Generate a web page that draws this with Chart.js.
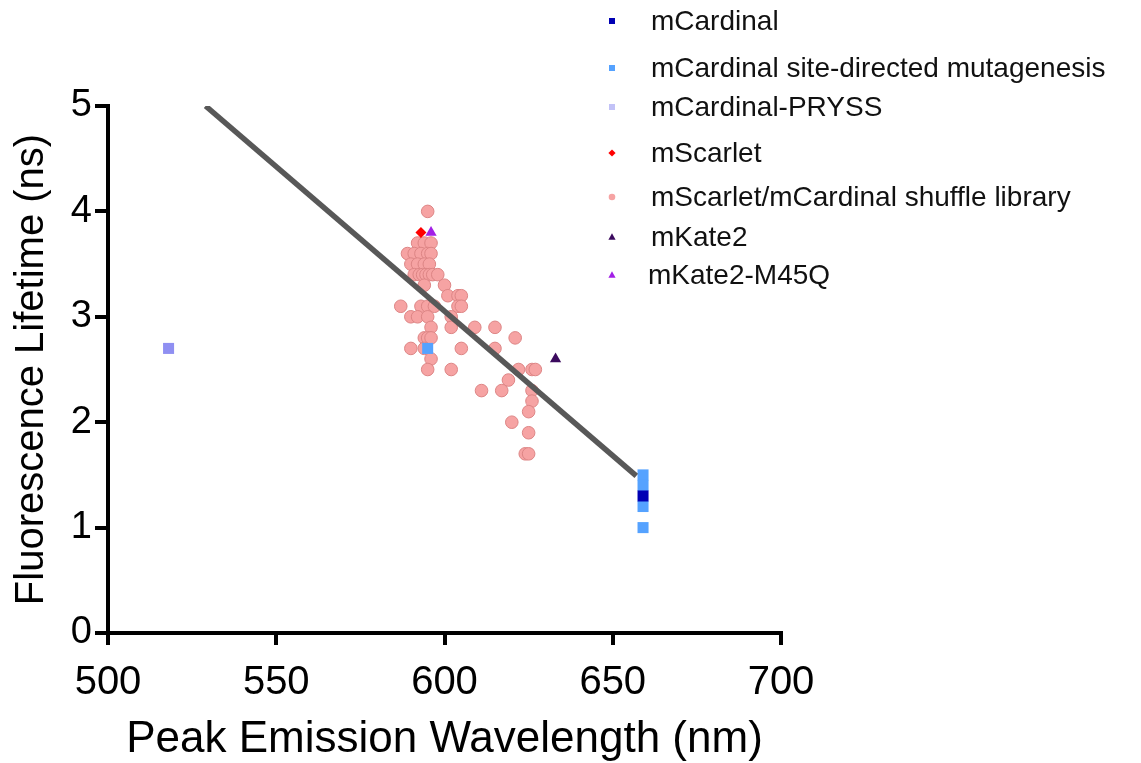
<!DOCTYPE html>
<html>
<head>
<meta charset="utf-8">
<script src="https://cdn.jsdelivr.net/npm/chart.js@4.4.1/dist/chart.umd.min.js"></script>
<style>
  html, body { margin: 0; padding: 0; background: #fff; }
  #wrap { width: 1141px; height: 763px; position: relative; }
</style>
</head>
<body>
<div id="wrap"><canvas id="c" width="1141" height="763"></canvas></div>
<script>
// ---------- data ----------
const xTicks = [500, 550, 600, 650, 700];
const yTicks = [0, 1, 2, 3, 4, 5];

const mCardinalX = [659];
const mCardinalY = [1.3];

const sdmX = [595, 659, 659, 659, 659];
const sdmY = [2.7, 1.5, 1.4, 1.2, 1.0];

const prySSX = [518];
const prySSY = [2.7];

const mScarletX = [593];
const mScarletY = [3.8];

const shuffleX = [595,
  592, 594, 596,
  589, 591, 593, 595, 596,
  590, 592, 594, 595.5,
  591, 592.5, 593.5, 594.5, 595.5, 596.5, 598,
  594, 600,
  601, 604, 605,
  587, 593, 595, 597, 604, 605,
  590, 592, 595, 602,
  596, 602, 609, 615,
  594, 595, 596, 621,
  590, 594, 605, 615,
  596,
  595, 602, 622, 626, 627,
  619,
  611, 617, 626,
  626, 625, 620, 625,
  624, 625];
const shuffleY = [4.0,
  3.7, 3.7, 3.7,
  3.6, 3.6, 3.6, 3.6, 3.6,
  3.5, 3.5, 3.5, 3.5,
  3.4, 3.4, 3.4, 3.4, 3.4, 3.4, 3.4,
  3.3, 3.3,
  3.2, 3.2, 3.2,
  3.1, 3.1, 3.1, 3.1, 3.1, 3.1,
  3.0, 3.0, 3.0, 3.0,
  2.9, 2.9, 2.9, 2.9,
  2.8, 2.8, 2.8, 2.8,
  2.7, 2.7, 2.7, 2.7,
  2.6,
  2.5, 2.5, 2.5, 2.5, 2.5,
  2.4,
  2.3, 2.3, 2.3,
  2.2, 2.1, 2.0, 1.9,
  1.7, 1.7];

const mKate2X = [633];
const mKate2Y = [2.6];

const m45qX = [596];
const m45qY = [3.8];

const fitX = [529, 657];
const fitY = [5.0, 1.49];

const seriesNames = [
  'mCardinal',
  'mCardinal site-directed mutagenesis',
  'mCardinal-PRYSS',
  'mScarlet',
  'mScarlet/mCardinal shuffle library',
  'mKate2',
  'mKate2-M45Q'
];

const xTitle = 'Peak Emission Wavelength (nm)';
const yTitle = 'Fluorescence Lifetime (ns)';

// ---------- build ----------
const pts = (xs, ys) => xs.map((x, i) => ({ x: x, y: ys[i] }));
const FONT = "'Liberation Sans', Arial, Helvetica, sans-serif";

const datasets = [
  { label: seriesNames[0], data: pts(mCardinalX, mCardinalY), pointStyle: 'rect', pointRadius: 7.8,
    backgroundColor: '#0000b4', borderColor: '#0000b4', borderWidth: 0, order: 1,
    legendStyle: 'rect', legendColor: '#0000b4' },
  { label: seriesNames[1], data: pts(sdmX, sdmY), pointStyle: 'rect', pointRadius: 7.8,
    backgroundColor: '#55a2ff', borderColor: '#55a2ff', borderWidth: 0, order: 2,
    legendStyle: 'rect', legendColor: '#55a2ff' },
  { label: seriesNames[2], data: pts(prySSX, prySSY), pointStyle: 'rect', pointRadius: 7.8,
    backgroundColor: '#8f8ff2', borderColor: '#8f8ff2', borderWidth: 0, order: 1,
    legendStyle: 'rect', legendColor: '#c2c2f7' },
  { label: seriesNames[3], data: pts(mScarletX, mScarletY), pointStyle: 'rectRot', pointRadius: 5.5,
    backgroundColor: '#ff0000', borderColor: '#ff0000', borderWidth: 0, order: 1,
    legendStyle: 'diamond', legendColor: '#ff0000' },
  { label: seriesNames[4], data: pts(shuffleX, shuffleY), pointStyle: 'circle', pointRadius: 6.3,
    backgroundColor: '#f6a3a3', borderColor: '#dd8585', borderWidth: 1, order: 5,
    legendStyle: 'circle', legendColor: '#f6a3a3' },
  { label: seriesNames[5], data: pts(mKate2X, mKate2Y), pointStyle: 'triangle', pointRadius: 6.5,
    backgroundColor: '#3b0a5e', borderColor: '#3b0a5e', borderWidth: 0, order: 1,
    legendStyle: 'triangle', legendColor: '#3b0a5e' },
  { label: seriesNames[6], data: pts(m45qX, m45qY), pointStyle: 'triangle', pointRadius: 6.5,
    backgroundColor: '#a21fe6', borderColor: '#a21fe6', borderWidth: 0, order: 1,
    legendStyle: 'triangle', legendColor: '#a21fe6' },
  { type: 'line', label: 'fit', data: pts(fitX, fitY), borderColor: '#585858', borderWidth: 5.5,
    pointRadius: 0, fill: false, showLine: true, order: 0, isFit: true }
];

// custom legend drawn at the reference positions
const legendRowsY = [21, 68, 107, 153, 197, 237, 275];
const legendPlugin = {
  id: 'refLegend',
  afterDraw(chart) {
    const ctx = chart.ctx;
    ctx.save();
    const rows = chart.data.datasets.filter(d => !d.isFit);
    rows.forEach((d, i) => {
      const y = legendRowsY[i];
      const mx = 612;
      ctx.fillStyle = d.legendColor;
      ctx.beginPath();
      if (d.legendStyle === 'rect') {
        ctx.rect(mx - 3, y - 3, 6, 6);
      } else if (d.legendStyle === 'circle') {
        ctx.arc(mx, y, 3.3, 0, Math.PI * 2);
      } else if (d.legendStyle === 'diamond') {
        ctx.moveTo(mx, y - 3.6); ctx.lineTo(mx + 3.6, y); ctx.lineTo(mx, y + 3.6); ctx.lineTo(mx - 3.6, y); ctx.closePath();
      } else if (d.legendStyle === 'triangle') {
        ctx.moveTo(mx, y - 3.8); ctx.lineTo(mx + 3.6, y + 2.8); ctx.lineTo(mx - 3.6, y + 2.8); ctx.closePath();
      }
      ctx.fill();
      ctx.fillStyle = '#111';
      ctx.font = '28px ' + FONT;
      ctx.textBaseline = 'middle';
      ctx.textAlign = 'left';
      ctx.fillText(d.label, i === 6 ? 648 : 651, y + 1);
    });
    ctx.restore();
  }
};

new Chart(document.getElementById('c'), {
  type: 'scatter',
  data: { datasets: datasets },
  options: {
    responsive: false,
    animation: false,
    layout: { padding: { top: 106, right: 360, left: 0, bottom: 0 } },
    plugins: { legend: { display: false }, tooltip: { enabled: false } },
    scales: {
      x: {
        type: 'linear', min: xTicks[0], max: xTicks[xTicks.length - 1],
        afterBuildTicks: (s) => { s.ticks = xTicks.map(v => ({ value: v })); },
        afterFit: (s) => { s.height = 130; },
        border: { display: true, color: '#000', width: 4 },
        grid: { drawOnChartArea: false, drawTicks: true, tickLength: 12, tickWidth: 4, tickColor: '#000', color: '#000', lineWidth: 4 },
        ticks: { color: '#000', font: { family: FONT, size: 40 }, padding: 14, maxRotation: 0 },
        title: { display: true, text: xTitle, color: '#000', font: { family: FONT, size: 44, lineHeight: 1 }, padding: { top: 0, bottom: 1 } }
      },
      y: {
        type: 'linear', min: yTicks[0], max: yTicks[yTicks.length - 1],
        afterBuildTicks: (s) => { s.ticks = yTicks.map(v => ({ value: v })); },
        afterFit: (s) => { s.width = 108; },
        border: { display: true, color: '#000', width: 4 },
        grid: { drawOnChartArea: false, drawTicks: true, tickLength: 13, tickWidth: 4, tickColor: '#000', color: '#000', lineWidth: 4 },
        ticks: { color: '#000', font: { family: FONT, size: 38 }, padding: 3 },
        title: { display: true, text: yTitle, color: '#000', font: { family: FONT, size: 40, lineHeight: 1 }, padding: { top: 12, bottom: 0 } }
      }
    }
  },
  plugins: [legendPlugin]
});
</script>
</body>
</html>
